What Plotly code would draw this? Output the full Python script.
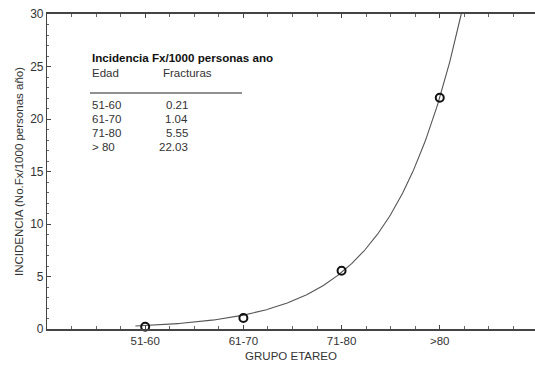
import numpy as np
import plotly.graph_objects as go

categories = ["51-60", "61-70", "71-80", ">80"]
cat_pos = [1, 2, 3, 4]
incidencia = [0.21, 1.04, 5.55, 22.03]
table_ages = ["51-60", "61-70", "71-80", "> 80"]
table_vals = ["0.21", "1.04", "5.55", "22.03"]
y_ticks = [0, 5, 10, 15, 20, 25, 30]

# exponential fit y = a*exp(b*x), nonlinear least squares (Gauss-Newton)
xd = np.array(cat_pos, float)
yd = np.array(incidencia, float)
b0 = np.polyfit(xd, np.log(yd), 1)
a, b = np.exp(b0[1]), b0[0]
for _ in range(200):
    f = a * np.exp(b * xd)
    J = np.column_stack([np.exp(b * xd), a * xd * np.exp(b * xd)])
    r = yd - f
    step, *_ = np.linalg.lstsq(J, r, rcond=None)
    a += step[0]
    b += step[1]
xf = np.linspace(0.9, 4.6, 300)
yf = a * np.exp(b * xf)
mask = yf <= 30.5
xf, yf = xf[mask], yf[mask]

fig = go.Figure()
fig.add_trace(go.Scatter(x=xf, y=yf, mode="lines",
                         line=dict(color="#555555", width=1.1),
                         hoverinfo="skip", showlegend=False, cliponaxis=True))
fig.add_trace(go.Scatter(x=cat_pos, y=incidencia, mode="markers",
                         marker=dict(symbol="circle-open", size=8, color="#111111",
                                     line=dict(width=2, color="#111111")),
                         showlegend=False, cliponaxis=False))

font_fam = "Arial, Liberation Sans, sans-serif"
txt_col = "#333333"

def px2x(px):
    return (px - 47) / 488.0

def py2y(py):
    return (329 - py) / 315.0

ann = []
ann.append(dict(text="<b>Incidencia Fx/1000 personas ano</b>", x=px2x(90), y=py2y(58),
                xref="paper", yref="paper", xanchor="left", yanchor="middle",
                showarrow=False, font=dict(family="Liberation Sans Narrow, Arial Narrow, Arial", size=11.6, color="#111111")))
ann.append(dict(text="Edad", x=px2x(90), y=py2y(73), xref="paper", yref="paper",
                xanchor="left", yanchor="middle", showarrow=False,
                font=dict(family=font_fam, size=11.5, color=txt_col)))
ann.append(dict(text="Fracturas", x=px2x(161), y=py2y(73), xref="paper", yref="paper",
                xanchor="left", yanchor="middle", showarrow=False,
                font=dict(family=font_fam, size=11.5, color=txt_col)))
row_y = [105, 119, 133, 147]
for ag, v, ry in zip(table_ages, table_vals, row_y):
    ann.append(dict(text=ag, x=px2x(90), y=py2y(ry), xref="paper", yref="paper",
                    xanchor="left", yanchor="middle", showarrow=False,
                    font=dict(family=font_fam, size=11.5, color=txt_col)))
    ann.append(dict(text=v, x=px2x(190), y=py2y(ry), xref="paper", yref="paper",
                    xanchor="right", yanchor="middle", showarrow=False,
                    font=dict(family=font_fam, size=11.5, color=txt_col)))

shapes = [dict(type="line", xref="paper", yref="paper", x0=px2x(90), x1=px2x(242),
               y0=py2y(93), y1=py2y(93), line=dict(color="#222222", width=1))]

fig.update_layout(
    width=535, height=369,
    margin=dict(l=47, r=0, t=14, b=40, autoexpand=False),
    paper_bgcolor="white", plot_bgcolor="white",
    annotations=ann, shapes=shapes,
    font=dict(family=font_fam, size=11, color=txt_col),
    xaxis=dict(range=[0, 4.97], tickvals=cat_pos, ticktext=categories,
               automargin=False,
               showgrid=False, zeroline=False, showline=True, linecolor="#444444",
               linewidth=1.5, mirror="ticks", ticks="inside", ticklen=4, tickcolor="#444444",
               minor=dict(dtick=0.25, tick0=0, ticks="inside", ticklen=3, tickcolor="#666666"),
               title=dict(text="GRUPO ETAREO", font=dict(size=11.5, color=txt_col), standoff=6),
               tickfont=dict(size=11.5, color=txt_col)),
    yaxis=dict(range=[0, 30], tickvals=y_ticks, showgrid=False, zeroline=False,
               automargin=False,
               showline=True, linecolor="#444444", linewidth=1.2,
               ticks="inside", ticklen=4, tickcolor="#444444",
               minor=dict(dtick=1, tick0=0, ticks="inside", ticklen=2, tickcolor="#666666"),
               title=dict(text="INCIDENCIA (No.Fx/1000 personas año)",
                          font=dict(size=11.5, color=txt_col), standoff=4),
               tickfont=dict(size=12, color=txt_col)),
)
fig.write_html("out.html", config={"displayModeBar": False},
               post_script="document.body.style.margin='0';document.body.style.overflow='hidden';")
